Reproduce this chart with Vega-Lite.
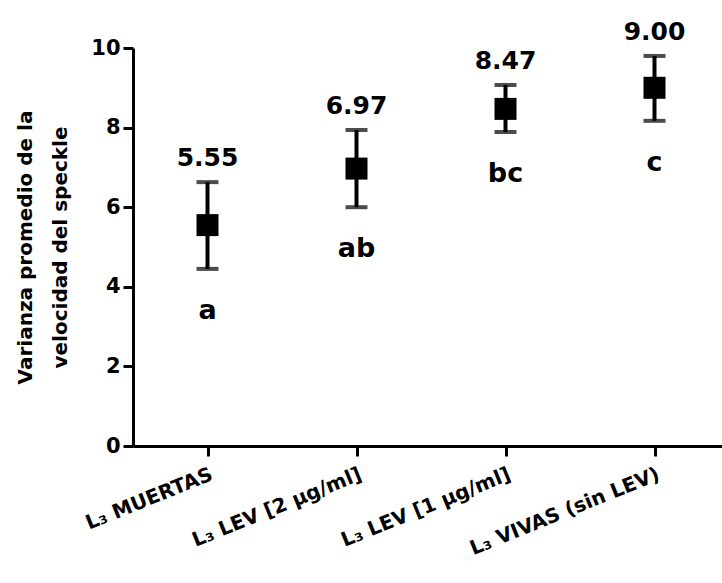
{
  "$schema": "https://vega.github.io/schema/vega-lite/v6.json",
  "autosize": "none",
  "width": 596,
  "height": 398,
  "padding": {"left": 133, "top": 48, "right": 0, "bottom": 137},
  "background": "white",
  "config": {
    "view": {"stroke": null},
    "font": "DejaVu Sans",
    "axis": {"grid": false, "domainColor": "black", "domainWidth": 3, "tickColor": "black", "tickWidth": 3, "tickSize": 10, "labelColor": "black", "labelFont": "DejaVu Sans", "labelFontWeight": "bold", "titleFont": "DejaVu Sans", "titleFontWeight": "bold", "titleColor": "black"},
    "axisY": {"labelFontSize": 21, "titleFontSize": 20, "titleLineHeight": 35, "labelPadding": 3, "titlePadding": 20},
    "axisX": {"labelFontSize": 20, "labelPadding": 8, "labelLimit": 400}
  },
  "data": {"values": [
    {"grupo": "L₃ MUERTAS", "media": 5.55, "lo": 4.45, "hi": 6.63, "valor": "5.55", "letra": "a"},
    {"grupo": "L₃ LEV [2 µg/ml]", "media": 6.97, "lo": 6.0, "hi": 7.94, "valor": "6.97", "letra": "ab"},
    {"grupo": "L₃ LEV [1 µg/ml]", "media": 8.47, "lo": 7.89, "hi": 9.07, "valor": "8.47", "letra": "bc"},
    {"grupo": "L₃ VIVAS (sin LEV)", "media": 9.0, "lo": 8.17, "hi": 9.8, "valor": "9.00", "letra": "c"}
  ]},
  "encoding": {
    "x": {"field": "grupo", "type": "nominal", "sort": null, "scale": {"type": "point", "padding": 0.5},
      "axis": {"title": null, "labelAngle": -22, "labelAlign": "right", "labelBaseline": "top"}}
  },
  "layer": [
    {"mark": {"type": "rule", "color": "black", "strokeWidth": 4},
     "encoding": {
       "y": {"field": "lo", "type": "quantitative", "scale": {"domain": [0, 10]},
         "axis": {"values": [0, 2, 4, 6, 8, 10], "title": ["Varianza promedio de la", "velocidad del speckle"]}},
       "y2": {"field": "hi"}}},
    {"mark": {"type": "tick", "color": "black", "thickness": 4, "size": 22, "orient": "horizontal"},
     "encoding": {"y": {"field": "lo", "type": "quantitative"}}},
    {"mark": {"type": "tick", "color": "black", "thickness": 4, "size": 22, "orient": "horizontal"},
     "encoding": {"y": {"field": "hi", "type": "quantitative"}}},
    {"mark": {"type": "square", "color": "black", "opacity": 1, "filled": true, "size": 484},
     "encoding": {"y": {"field": "media", "type": "quantitative"}}},
    {"mark": {"type": "text", "color": "black", "fontWeight": "bold", "fontSize": 25, "baseline": "alphabetic", "dy": -16},
     "encoding": {"y": {"field": "hi", "type": "quantitative"}, "text": {"field": "valor"}}},
    {"mark": {"type": "text", "color": "black", "fontWeight": "bold", "fontSize": 27, "baseline": "alphabetic", "dy": 50},
     "encoding": {"y": {"field": "lo", "type": "quantitative"}, "text": {"field": "letra"}}}
  ]
}
